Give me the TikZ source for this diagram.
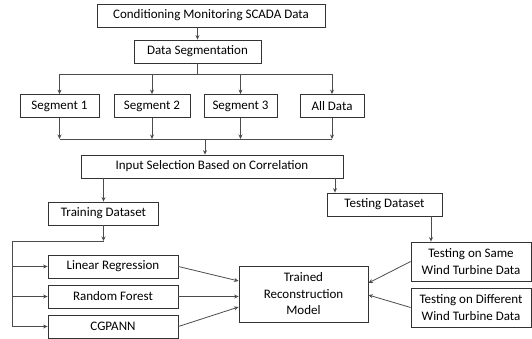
\documentclass[tikz,border=0pt]{standalone}
\usepackage{fontspec}
\setmainfont{Carlito}
\usetikzlibrary{arrows.meta}

\begin{document}
\begin{tikzpicture}[x=1pt, y=-1pt,
    box/.style={draw=black!80, line width=0.8pt, inner sep=0pt, align=center,
        minimum height=23pt, font=\fontsize{13}{16.5}\selectfont},
    link/.style={draw=black!70, line width=0.8pt},
    arr/.style={link, -{Stealth[length=4.5pt, width=4pt]}}]
        \useasboundingbox (0,0) rectangle (532,339);

        % Data preparation
        \node[box, minimum width=228pt] (scada) at (211,15.5) {Conditioning Monitoring SCADA Data};
        \node[box, minimum width=127pt] (dseg) at (197.5,51.5) {Data Segmentation};
        \draw[arr] (scada.south -| dseg.north) -- (dseg.north);

        % Segments
        \node[box, minimum width=79pt] (seg1) at (59.5,106) {Segment 1};
        \node[box, minimum width=76pt] (seg2) at (152,106) {Segment 2};
        \node[box, minimum width=73pt] (seg3) at (240.5,106) {Segment 3};
        \node[box, minimum width=64pt] (alldata) at (332,106) {All Data};

        \coordinate (splitL) at (59.5,74);
        \coordinate (splitR) at (332,74);
        \draw[link] (dseg.south) -- (dseg.south |- splitL);
        \draw[link] (splitL) -- (splitR);
        \foreach \s in {seg1,seg2,seg3,alldata} {
            \draw[arr] (\s.north |- splitL) -- (\s.north);
        }

        % Merge into input selection
        \node[box, minimum width=262pt] (input) at (212,166.5) {Input Selection Based on Correlation};
        \coordinate (joinL) at (59.5,139);
        \coordinate (joinR) at (332,139);
        \foreach \s in {seg1,seg2,seg3,alldata} {
            \draw[arr] (\s.south) -- (\s.south |- joinL);
        }
        \draw[link] (joinL) -- (joinR);
        \draw[arr] (205,139) -- (input.north -| 205,0);

        % Datasets
        \node[box, minimum width=110pt] (train) at (103.5,213.5) {Training Dataset};
        \node[box, minimum width=115pt] (test) at (384.5,204.5) {Testing Dataset};
        \draw[arr] (input.south -| train.north) -- (train.north);
        \draw[arr] (input.south -| 335,0) -- (test.north -| 335,0);

        % Models
        \node[box, minimum width=130pt] (linreg) at (113,266.5) {Linear Regression};
        \node[box, minimum width=130pt] (rforest) at (113,296.5) {Random Forest};
        \node[box, minimum width=130pt] (cgpann) at (113,326.5) {CGPANN};

        \coordinate (bus) at (12,241);
        \draw[arr] (train.south) -- (train.south |- bus);
        \draw[link] (bus) -- (bus -| train.south);
        \draw[link] (bus) -- (bus |- cgpann.west);
        \foreach \m in {linreg,rforest,cgpann} {
            \draw[arr] (bus |- \m.west) -- (\m.west);
        }

        % Trained model and testing
        \node[box, minimum width=129pt, minimum height=56pt] (model) at (303.5,294) {Trained\\Reconstruction\\Model};
        \node[box, minimum width=120pt, minimum height=39pt] (same) at (471,261.5) {Testing on Same\\Wind Turbine Data};
        \node[box, minimum width=120pt, minimum height=39pt] (diff) at (471,307.5) {Testing on Different\\Wind Turbine Data};

        \draw[arr] (test.south -| 431,0) -- (same.north -| 431,0);
        \draw[arr] (linreg.east) -- (model.west |- 0,281);
        \draw[arr] (rforest.east) -- (model.west |- rforest.east);
        \draw[arr] (cgpann.east) -- (model.west |- 0,307);
        \draw[arr] (same.west) -- (model.east |- 0,283);
        \draw[arr] (diff.west) -- (model.east |- 0,295);
    \end{tikzpicture}
\end{document}
